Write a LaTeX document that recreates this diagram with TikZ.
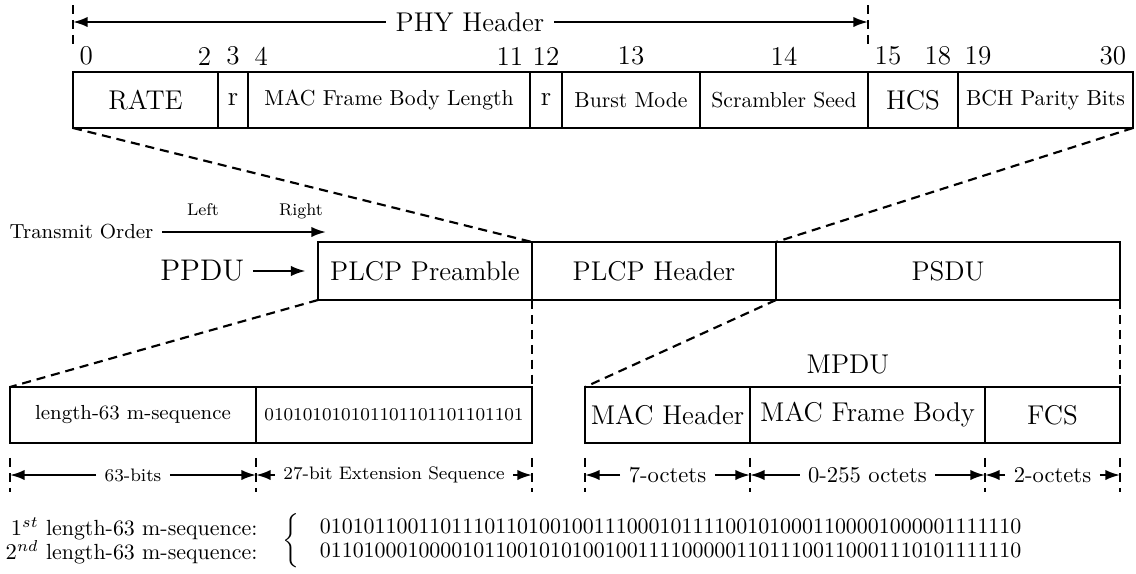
\documentclass[tikz,border=0pt]{standalone}
\usepackage{amsmath}
\usetikzlibrary{positioning,arrows.meta}

\newcommand{\pw}{0.4425pt}

\begin{document}
\begin{tikzpicture}
[
x=0.4425pt, y=-0.4425pt,
line width=0.95pt,
field/.style={draw, inner sep=0pt, outer sep=0pt, minimum height=56*\pw, font=\large},
midfield/.style={field, font=\fontsize{9.6}{11.5}\selectfont},
bitno/.style={inner sep=2.5pt, font=\large},
dim/.style={-{Latex[length=6.5pt,width=4.6pt]}},
dimtick/.style={dash pattern=on 4pt off 2.6pt},
expand/.style={dash pattern=on 4pt off 2.6pt}
]

\useasboundingbox (0,0) rectangle (1136,573);

% PHY header fields
\node[field, minimum width=145*\pw, anchor=north west] (rate) at (73,72) {RATE};
\node[field, minimum width=30*\pw, right=0pt of rate] (res1) {r};
\node[midfield, minimum width=282*\pw, right=0pt of res1] (len) {MAC Frame Body Length};
\node[field, minimum width=32*\pw, right=0pt of len] (res2) {r};
\node[midfield, minimum width=138*\pw, right=0pt of res2] (burst) {Burst Mode};
\node[midfield, minimum width=168*\pw, right=0pt of burst] (seed) {Scrambler Seed};
\node[field, minimum width=90*\pw, right=0pt of seed] (hcs) {HCS};
\node[midfield, minimum width=175*\pw, right=0pt of hcs] (bch) {BCH Parity Bits};

% bit numbers
\foreach \nm/\anc/\pos/\txt in {n0/south west/rate.north west/0, n2/south east/rate.north east/2,
  n3/south/res1.north/3, n4/south west/len.north west/4, n11/south east/len.north east/11,
  n12/south/res2.north/12, n13/south/burst.north/13, n14/south/seed.north/14,
  n15/south west/hcs.north west/15, n18/south east/hcs.north east/18,
  n19/south west/bch.north west/19, n30/south east/bch.north east/30}
  \node[bitno, anchor=\anc] (\nm) at (\pos) {\txt};

% PHY header span
\node[font=\large, inner sep=4pt] (phy) at (470,22) {PHY Header};
\coordinate (phyL) at (rate.west |- phy);
\coordinate (phyR) at (hcs.west |- phy);
\draw[dim] (phy) -- (phyL);
\draw[dim] (phy) -- (phyR);
\draw[dimtick] ([yshift=7.5pt]phyL) -- ([yshift=-10pt]phyL);
\draw[dimtick] ([yshift=7.5pt]phyR) -- ([yshift=-10pt]phyR);

% PPDU
\node[field, minimum width=214*\pw, minimum height=58*\pw, anchor=north west] (pre) at (318,242) {PLCP Preamble};
\node[field, minimum width=244*\pw, minimum height=58*\pw, right=0pt of pre] (hdr) {PLCP Header};
\node[field, minimum width=344*\pw, minimum height=58*\pw, right=0pt of hdr] (psdu) {PSDU};
\node[font=\fontsize{13.2}{16}\selectfont, left=28.8pt of pre] (ppdu) {PPDU};
\draw[dim, shorten >=5.5pt] (ppdu) -- (pre);

% transmit order
\node[font=\small, anchor=east] (tx) at (162,232) {Transmit Order};
\coordinate (txend) at (326,232);
\draw[dim] (tx) -- (txend);
\node[font=\fontsize{7.5}{9}\selectfont, anchor=base] (lft) at (203,215) {Left};
\node[font=\fontsize{7.5}{9}\selectfont, anchor=base] (rgt) at (301,215) {Right};

% preamble
\node[field, font=\small, minimum width=246*\pw, anchor=north west] (mseq) at (10,387) {length-63 m-sequence};
\node[field, font=\footnotesize, minimum width=276*\pw, right=0pt of mseq] (ext) {010101010101101101101101101};

% MPDU
\node[field, minimum width=165*\pw, anchor=north west] (mach) at (585,387) {MAC Header};
\node[field, minimum width=235*\pw, right=0pt of mach] (body) {MAC Frame Body};
\node[field, minimum width=135*\pw, right=0pt of body] (fcs) {FCS};
\node[font=\large] (mpdu) at (848,365) {MPDU};

% expansion lines
\draw[expand] (rate.south west) -- (hdr.north west);
\draw[expand] (bch.south east) -- (psdu.north west);
\draw[expand] (pre.south west) -- (mseq.north west);
\draw[expand] (pre.south east) -- (ext.north east);
\draw[expand] (psdu.south west) -- (mach.north west);
\draw[expand] (psdu.south east) -- (fcs.north east);

% lengths
\foreach \t in {mseq.south west, mseq.south east, ext.south east, mach.south west,
  mach.south east, body.south east, fcs.south east}
  \draw[dimtick] ([yshift=-6.6pt]\t) -- ([yshift=-21.7pt]\t);

\path (mseq.south) ++(0,32) node[font=\footnotesize] (d63) {63-bits};
\path (ext.south) ++(0,32) node[font=\footnotesize] (d27) {27-bit Extension Sequence};
\path (mach.south) ++(0,32) node (d7) {7-octets};
\path (body.south) ++(0,32) node (d255) {0-255 octets};
\path (fcs.south) ++(0,32) node (d2) {2-octets};
\foreach \d/\b in {d63/mseq, d27/ext, d7/mach, d255/body, d2/fcs}{
  \draw[dim] (\d) -- (\d -| \b.west);
  \draw[dim] (\d) -- (\d -| \b.east);
}

% m-sequences
\node[font=\fontsize{9.7}{10.6}\selectfont, align=right, anchor=east] (seqname) at (266,541)
  {$1^{st}$ length-63 m-sequence:\\ $2^{nd}$ length-63 m-sequence:};
\node[font=\fontsize{9.7}{10.6}\selectfont, anchor=west] (seqbits) at (274,541)
  {$\left\{\hspace{9pt}\begin{tabular}{@{}l@{}}
  0101011001101110110100100111000101111001010001100001000001111110\\
  0110100010000101100101010010011110000011011100110001110101111110
  \end{tabular}\right.$};
\end{tikzpicture}
\end{document}
